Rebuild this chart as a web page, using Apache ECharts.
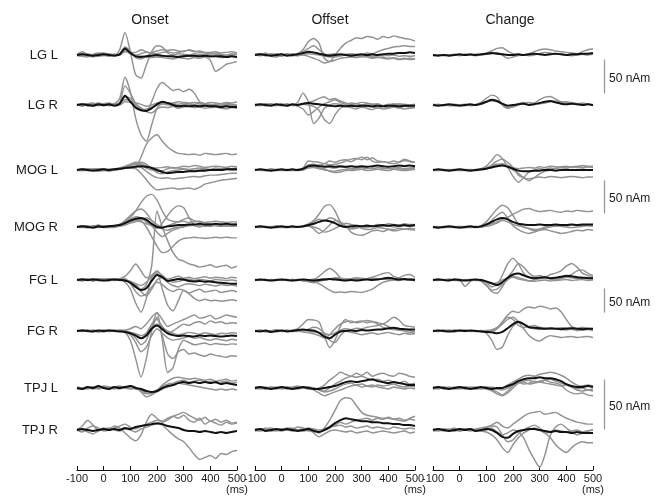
<!DOCTYPE html>
<html><head><meta charset="utf-8">
<script src="https://cdn.jsdelivr.net/npm/echarts@6/dist/echarts.min.js"></script>
<style>html,body{margin:0;padding:0;background:#fff}#c{width:663px;height:500px}</style>
</head><body><div id="c"></div>
<script>
// time axis (ms)
const times = [-100,-80,-60,-40,-20,0,20,40,60,80,100,120,140,160,180,200,220,240,260,280,300,320,340,360,380,400,420,440,460,480,500];
const conditions = ['Onset','Offset','Change'];
const regions = ['LG L','LG R','MOG L','MOG R','FG L','FG R','TPJ L','TPJ R'];
const scaleBarNAm = 50;
const scaleBarLabel = '50 nAm';
const xUnit = '(ms)';

// ---------- Onset (nAm) ----------
const on_LGL_mean = [0,1,0,-1,0,1,0,-1,1,10,3,-2,-3,-2,-1,0,-1,-2,-2,-3,-2,-1,-1,-2,-1,-2,-2,-2,-3,-2,-3];
const on_LGL_subj = [
 [0,2,0,-2,1,2,0,-1,8,34,5,-30,-35,-15,5,14,12,3,0,2,1,0,2,1,0,2,1,0,-1,0,1],
 [1,5,0,-3,2,3,1,0,2,12,6,-4,-6,-2,3,6,8,7,8,6,5,8,6,4,3,2,3,1,0,2,1],
 [-1,-2,-3,1,3,0,-2,1,0,6,2,-1,2,4,3,-2,-4,-5,-6,-4,-5,-6,-4,-5,-3,-8,-25,-20,-14,-12,-10],
 [0,0,2,-1,-2,0,2,0,1,8,4,4,8,5,2,2,4,5,3,4,6,7,5,6,4,4,5,3,4,5,3],
 [0,1,-1,0,1,-1,0,1,0,5,3,0,-2,-3,-4,-3,-3,-2,-3,-2,-1,-2,-3,-2,-1,-3,-2,-4,-3,-2,-4]];
const on_LGR_mean = [0,1,0,-1,1,0,1,-1,2,14,5,-4,-8,-9,-5,1,5,3,0,-2,-1,-2,-1,-2,-1,-2,-2,-3,-2,-3,-3];
const on_LGR_subj = [
 [0,2,-1,1,3,1,0,2,10,42,20,-20,-45,-55,-30,-5,2,0,1,-1,0,1,-1,0,1,-1,0,0,-1,0,-2],
 [1,-2,2,3,-1,2,3,0,1,12,10,2,-5,-10,5,25,34,28,22,24,20,24,18,5,2,0,1,-2,3,1,0],
 [-1,1,2,0,2,-1,0,1,4,29,18,2,-8,-6,-3,0,2,3,2,1,3,2,1,3,2,1,0,-1,1,0,-1],
 [0,0,-1,-2,0,1,-1,0,2,8,6,0,-4,-10,-12,-6,-3,-4,-2,-5,-3,-2,-4,-3,-5,-4,-3,-5,-6,-4,-5],
 [1,0,1,2,0,-1,1,2,0,5,4,3,1,-2,0,3,4,2,3,5,4,3,4,3,2,4,3,2,4,3,5]];
const on_MOGL_mean = [0,1,0,-1,0,1,0,1,2,3,4,5,6,5,3,0,-3,-5,-4,-3,-3,-2,-2,-1,-1,0,0,0,1,1,1];
const on_MOGL_subj = [
 [0,1,-1,0,2,0,1,0,2,4,6,5,20,40,50,55,45,36,30,26,25,24,25,23,26,25,24,25,26,24,25],
 [-1,0,2,1,0,-1,1,2,3,4,3,2,-5,-15,-25,-31,-30,-29,-28,-30,-29,-28,-30,-27,-22,-20,-18,-16,-15,-14,-13],
 [1,-1,0,2,1,0,-2,0,1,3,5,6,4,-2,-8,-12,-13,-12,-14,-13,-12,-11,-10,-11,-9,-8,-8,-7,-6,-5,-5],
 [0,2,1,-1,0,2,1,-1,3,6,9,12,10,6,4,3,4,5,3,4,6,5,7,6,4,5,6,5,4,6,5],
 [-1,0,1,0,-2,-1,0,1,2,4,7,9,8,3,0,-2,-1,2,4,3,2,1,2,3,2,1,3,2,3,2,3],
 [0,-1,0,1,2,1,-1,0,1,5,8,10,12,9,2,-4,-6,-3,-1,0,1,0,-1,0,1,0,1,0,1,0,0]];
const on_MOGR_mean = [0,1,0,-1,1,0,1,2,3,6,10,13,14,11,5,0,-1,1,2,3,3,4,4,5,4,4,5,4,5,4,4];
const on_MOGR_subj = [
 [0,1,2,0,-1,1,0,2,4,8,15,25,38,48,51,42,25,12,9,8,9,7,8,9,7,8,9,8,7,8,8],
 [-1,2,0,1,3,0,-1,1,3,5,8,10,8,5,2,-2,6,18,28,33,30,15,3,0,2,1,3,2,1,3,2],
 [1,0,-1,2,0,1,2,0,2,6,10,12,10,0,-15,-30,-40,-38,-30,-22,-18,-17,-16,-17,-18,-17,-16,-17,-16,-17,-17],
 [0,-1,1,0,2,1,0,-1,4,10,18,25,28,22,10,2,-3,-5,-2,0,1,3,2,4,3,2,4,5,3,4,3],
 [0,2,1,-1,0,2,1,0,2,5,12,16,14,8,2,-8,-15,-10,-5,-2,0,2,3,2,1,3,2,1,2,1,2],
 [1,0,-1,1,2,-1,0,1,1,3,6,8,12,14,10,4,0,2,5,8,12,14,10,8,6,5,4,6,5,4,5]];
const on_FGL_mean = [0,1,0,1,0,-1,0,1,0,-1,-6,-15,-22,-18,-2,11,6,-2,0,2,1,-2,-3,-2,-4,-3,-5,-6,-7,-8,-8];
const on_FGL_subj = [
 [0,2,-1,1,3,0,-2,1,2,0,-3,-10,-20,-10,30,150,115,85,60,45,41,35,32,28,30,33,28,30,32,26,30],
 [1,0,2,-2,0,3,1,-1,0,-5,-20,-50,-70,-40,5,15,-20,-55,-67,-45,-23,-30,-40,-45,-42,-45,-44,-46,-45,-43,-45],
 [-1,3,0,-2,2,1,-1,0,1,3,-8,-25,-35,-30,-15,-5,-10,-20,-25,-20,-22,-28,-24,-20,-26,-24,-22,-27,-25,-23,-26],
 [0,-2,1,3,-1,0,2,1,3,8,20,35,20,5,10,20,8,2,5,8,4,6,3,5,7,4,6,5,3,6,4],
 [1,0,-1,0,2,-1,0,2,-1,0,-3,-8,-12,-5,8,18,10,0,-5,-3,0,2,-1,1,0,-2,1,0,-1,0,-2],
 [0,1,2,0,-1,1,3,0,1,-2,-4,-10,-25,-35,-20,0,5,-5,-12,-15,-10,-8,-10,-12,-9,-11,-13,-10,-12,-11,-13]];
const on_FGR_mean = [0,1,0,-1,1,0,1,0,-1,-2,-5,-10,-16,-10,5,12,4,-5,-9,-11,-10,-11,-12,-10,-11,-10,-11,-12,-11,-10,-11];
const on_FGR_subj = [
 [0,2,-1,1,-2,1,0,2,0,-3,-20,-60,-100,-60,0,30,-10,-50,-60,-45,-40,-50,-48,-52,-55,-50,-53,-55,-57,-54,-55],
 [1,0,2,-1,1,-2,1,0,2,0,-5,-15,-30,-20,10,40,-20,-90,-80,-40,-20,-25,-30,-28,-26,-30,-27,-29,-30,-28,-29],
 [-1,1,0,2,0,1,-1,1,0,2,5,10,5,15,30,40,25,10,15,20,25,30,35,28,30,34,26,30,35,32,30],
 [0,-1,1,0,-2,0,2,-1,1,-1,-4,-8,-15,-5,15,25,10,-5,0,8,15,12,18,20,15,22,18,20,16,18,17],
 [1,0,-1,1,0,2,0,1,-1,0,-3,-6,-10,-5,8,15,8,0,-5,-8,-6,-3,-5,-7,-4,-6,-8,-5,-6,-4,-5],
 [0,1,0,-1,1,0,-1,0,1,-2,-8,-25,-45,-35,-10,5,-5,-15,-20,-18,-15,-12,-16,-14,-18,-20,-17,-19,-21,-18,-20]];
const on_TPJL_mean = [0,-1,1,0,2,0,-1,1,0,1,2,0,-1,-3,-4,-3,0,2,3,5,6,5,6,5,6,5,6,4,5,4,3];
const on_TPJL_subj = [
 [1,0,-1,1,0,2,1,-1,1,0,2,1,-4,-9,-7,-3,3,7,10,11,10,9,10,9,8,9,7,8,9,7,8],
 [0,-1,0,1,-1,0,1,0,-1,1,0,-1,-2,-5,-6,-4,-1,1,3,5,4,3,2,1,0,-1,-2,-1,-2,-1,-2],
 [-1,0,1,-1,0,1,0,1,2,0,-1,0,-3,-6,-5,-2,2,4,5,7,8,6,7,8,6,7,5,6,7,5,6]];
const on_TPJR_mean = [0,1,0,-1,0,1,0,1,0,2,1,3,4,5,6,7,6,4,3,2,0,-1,-1,-2,-1,-2,-3,-2,-3,-2,-1];
const on_TPJR_subj = [
 [1,0,-2,-4,-1,0,2,0,-1,1,0,-2,1,3,5,6,5,0,-5,-9,-12,-18,-25,-30,-28,-26,-29,-24,-25,-22,-21],
 [0,4,10,5,0,2,1,4,2,-3,-8,-11,-5,8,16,12,8,10,14,16,18,15,12,10,13,9,11,8,10,7,8],
 [0,-2,2,4,2,-1,0,2,4,6,3,1,4,6,8,10,9,12,14,12,15,10,8,12,6,9,7,5,8,6,7]];

// ---------- Offset (nAm) ----------
const off_LGL_mean = [0,1,0,-1,0,1,-1,0,1,3,5,4,2,0,-1,0,1,0,-1,0,1,0,1,0,1,2,2,3,3,4,3];
const off_LGL_subj = [
 [0,2,-1,1,0,-2,1,0,2,8,20,25,18,-5,-10,0,10,18,22,26,25,28,27,24,28,26,29,27,25,24,21],
 [1,0,3,-2,-3,0,1,-1,0,2,4,3,2,0,1,2,0,1,2,1,0,3,2,5,8,10,12,13,14,13,13],
 [-1,1,0,2,-1,1,0,2,-1,0,-2,-5,-8,-12,-10,-8,-5,-4,-3,-4,-2,-3,-5,-4,-3,-5,-4,-6,-5,-7,-6],
 [0,-1,1,0,2,0,1,-1,2,5,10,14,8,2,-2,-3,-1,0,1,0,-1,0,-2,-1,0,-1,0,-2,-1,-2,-1],
 [1,0,-1,1,0,-1,2,0,-1,1,2,1,0,-2,-3,-2,-1,0,-2,-1,-3,-2,-4,-3,-5,-6,-5,-7,-6,-5,-6]];
const off_LGR_mean = [0,1,0,-1,1,0,-1,1,0,2,3,2,1,0,-1,-2,-1,-2,-1,-2,-1,-1,-2,-1,-2,-1,-1,-2,-1,-1,-1];
const off_LGR_subj = [
 [1,0,-1,2,0,1,-1,0,4,18,5,-28,-20,-5,0,2,1,-2,-3,-1,-4,-2,-3,-5,-2,-4,-3,-5,-2,-3,-4],
 [0,-1,1,0,-1,2,0,1,-2,-6,-15,-10,-3,2,5,8,4,1,3,2,0,2,1,0,-1,1,0,2,1,0,1],
 [-1,0,2,1,0,-1,1,0,1,2,4,6,10,12,8,10,6,3,1,2,4,3,1,2,-1,0,2,1,0,-1,0],
 [0,1,-1,0,1,0,2,-1,0,1,0,-2,-8,-22,-28,-15,-5,-2,-4,-6,-3,-5,-7,-4,-6,-5,-3,-4,-6,-5,-4]];
const off_MOGL_mean = [0,1,0,-1,0,1,0,1,0,2,6,7,6,5,6,5,6,5,6,5,6,5,6,7,6,5,6,7,6,7,6];
const off_MOGL_subj = [
 [0,1,-1,0,1,0,1,0,1,3,14,13,12,10,14,12,15,16,13,17,20,16,19,14,13,12,14,12,15,13,12],
 [1,-1,0,2,0,-1,0,1,0,1,8,9,7,10,8,9,11,14,17,18,16,20,14,12,13,11,10,12,17,14,12],
 [0,0,1,-1,1,0,-1,0,1,0,4,5,3,2,-2,-4,-3,-1,0,2,1,3,2,4,3,2,3,4,2,3,4],
 [-1,1,0,0,-1,1,0,-1,0,2,5,6,8,6,4,3,5,4,2,3,4,2,3,1,2,3,1,2,1,2,3],
 [0,0,-1,1,0,0,1,0,-1,1,3,4,2,0,-1,-2,0,1,-1,0,1,-1,0,1,0,-1,1,0,-1,0,1]];
const off_MOGR_mean = [0,1,0,-1,0,1,0,1,0,1,3,5,8,10,9,6,2,0,1,2,1,2,1,2,3,2,3,2,3,2,3];
const off_MOGR_subj = [
 [0,1,-1,0,2,0,-1,1,0,2,5,10,20,32,35,25,8,0,-2,0,1,-1,2,0,1,2,0,1,2,1,2],
 [1,0,1,-1,0,-1,1,0,1,0,2,-3,-10,-5,3,10,8,2,-8,-12,-13,-10,-6,-5,-7,-4,-6,-5,-3,-4,-5],
 [-1,0,0,1,-1,0,1,-1,0,1,4,8,12,10,14,12,5,0,-3,-2,1,3,2,4,3,5,4,3,5,4,4],
 [0,-1,1,0,1,0,-1,0,1,2,1,0,-3,-8,-6,-2,2,6,4,2,-2,-4,-3,-1,-2,-3,-4,-2,-3,-2,-3]];
const off_FGL_mean = [0,1,0,-1,0,1,0,-1,0,1,0,-1,0,1,2,1,0,-1,0,-1,0,1,0,1,3,5,3,1,2,1,0];
const off_FGL_subj = [
 [0,1,-1,0,1,0,-1,1,0,-1,-2,0,8,18,25,18,5,0,2,1,3,2,4,3,2,1,0,2,1,0,-1],
 [1,0,1,-1,0,1,0,-1,1,0,-1,-3,-8,-15,-22,-27,-26,-27,-25,-26,-27,-24,-20,-12,-5,-2,0,-1,1,0,-1],
 [-1,0,1,0,-1,0,1,0,-1,1,0,2,1,3,2,4,3,2,1,3,2,3,6,10,14,16,8,5,10,12,6],
 [0,-1,0,1,0,-1,0,1,0,-2,-4,-6,-3,0,2,5,4,2,3,5,4,2,3,1,2,4,2,3,1,2,3]];
const off_FGR_mean = [0,-1,1,-2,0,1,-1,0,2,3,2,1,-4,-12,-16,-8,-1,0,1,0,2,1,2,3,4,6,7,5,4,3,3];
const off_FGR_subj = [
 [1,0,-2,1,3,0,-1,1,5,15,25,24,20,-10,-36,-20,10,25,18,20,22,18,20,15,8,5,3,2,4,1,-2],
 [0,2,-1,-3,0,1,2,0,-1,2,0,-2,-3,-5,-8,-4,2,5,3,6,5,8,10,12,15,22,30,24,12,10,8],
 [-1,0,1,0,-2,0,1,-1,0,-2,-4,-6,-10,-15,-8,5,15,20,22,18,20,23,21,18,15,10,5,2,0,-3,-5],
 [0,1,0,-1,1,-1,0,2,1,0,4,8,5,-5,-20,-25,-10,0,-3,-5,-8,-6,-4,-7,-5,-3,-6,-8,-5,-7,-6]];
const off_TPJL_mean = [0,1,0,-1,0,1,0,-1,0,1,0,-1,-1,0,1,2,4,6,7,6,7,8,9,7,6,5,6,5,4,3,3];
const off_TPJL_subj = [
 [0,1,-1,0,1,-1,0,1,2,0,1,-1,0,3,8,12,16,14,12,15,13,16,12,14,15,13,12,15,14,12,11],
 [1,0,1,-1,0,1,-1,0,1,0,-1,0,-2,-3,0,4,7,10,12,11,12,10,8,9,7,8,6,5,7,4,5],
 [-1,0,-1,1,0,0,1,-1,0,1,0,-2,-5,-8,-6,-4,-2,0,2,3,1,2,3,1,0,-1,1,0,-1,0,-1],
 [0,-1,0,1,-1,0,1,0,-1,0,1,0,-2,-4,-3,-1,2,4,5,3,4,2,1,3,2,3,4,2,1,2,1]];
const off_TPJR_mean = [0,1,-1,0,1,0,1,0,-1,0,1,-1,-2,0,3,7,10,12,11,10,9,9,8,8,7,7,6,6,5,5,4];
const off_TPJR_subj = [
 [0,-1,1,2,0,-1,1,2,0,1,-1,0,-3,2,10,20,30,33,32,25,18,15,14,13,12,12,11,12,10,11,10],
 [1,0,2,-1,1,0,2,1,3,2,0,1,-2,0,2,5,8,6,8,10,11,12,10,12,11,13,11,10,9,12,14],
 [-1,0,1,0,-1,1,0,-1,0,-1,0,-3,-7,-4,-1,0,-1,-2,-1,-3,-2,-1,-3,-2,-1,-2,-3,-2,-1,-3,-2],
 [0,1,0,-1,0,1,0,1,0,1,2,1,0,1,3,4,5,3,4,2,3,4,2,3,2,1,3,2,1,2,1]];

// ---------- Change (nAm) ----------
const ch_LGL_mean = [0,-1,0,-1,0,1,0,1,0,1,2,3,2,1,0,0,1,0,1,2,1,0,1,2,1,0,1,1,2,2,3];
const ch_LGL_subj = [
 [0,0,-1,0,1,0,1,0,1,0,3,6,10,11,6,2,1,0,2,5,8,9,8,6,5,4,3,2,5,8,9],
 [-1,0,0,-1,0,-1,1,0,-1,0,1,2,4,0,-5,-3,-1,0,-1,0,2,4,3,2,1,0,-1,0,1,0,1]];
const ch_LGR_mean = [0,-1,0,1,0,-1,0,1,0,2,5,8,6,2,-1,0,1,2,0,1,3,5,6,4,2,1,2,1,0,1,0];
const ch_LGR_subj = [
 [0,1,-1,0,1,0,-1,0,1,4,10,15,12,0,-5,-2,2,4,1,3,8,12,13,9,5,3,4,2,3,1,0],
 [1,0,0,-1,-1,0,1,-1,0,1,4,6,5,1,-4,-3,0,3,4,2,2,3,5,6,4,5,3,2,1,2,-1]];
const ch_MOGL_mean = [0,1,0,-1,0,1,0,-1,0,1,2,4,6,7,5,2,-1,-2,-2,-1,-1,0,0,-1,0,0,0,0,0,0,0];
const ch_MOGL_subj = [
 [0,1,-1,0,1,0,-1,0,1,2,6,15,24,18,5,-10,-19,-12,-3,0,2,1,3,2,4,3,5,4,3,5,4],
 [1,0,1,-1,0,1,0,-1,0,1,3,8,14,17,12,4,-8,-12,-14,-12,-11,-12,-10,-11,-12,-11,-10,-11,-12,-11,-11],
 [-1,0,0,1,-1,0,1,0,-1,0,2,5,8,10,6,0,-5,-12,-17,-12,-6,-2,0,3,5,6,4,5,7,6,5],
 [0,-1,1,0,1,-1,0,1,0,1,3,6,9,8,7,4,2,3,4,3,5,4,6,5,4,3,5,6,4,5,6]];
const ch_MOGR_mean = [0,-1,0,1,0,-1,0,1,0,1,4,8,12,14,12,8,5,4,3,3,4,3,3,4,3,3,4,3,4,4,4];
const ch_MOGR_subj = [
 [0,1,-1,0,1,0,-1,1,0,2,8,18,28,34,30,18,5,0,-2,-4,-3,0,2,1,3,2,4,3,2,3,4],
 [1,0,1,-1,0,1,0,-1,1,0,2,5,8,12,15,20,24,28,29,26,24,25,26,24,23,25,24,26,25,24,25],
 [-1,0,0,1,-1,0,1,0,-1,0,3,10,18,23,14,2,-4,-8,-10,-8,-5,-4,-6,-8,-10,-9,-7,-5,-6,-4,-5],
 [0,-1,1,0,0,1,-1,0,1,0,1,3,6,10,8,4,2,0,-3,-6,-4,-2,0,2,1,0,-1,0,1,2,1]];
const ch_FGL_mean = [0,1,0,-1,1,0,-1,0,1,0,-3,-7,-11,-5,5,12,14,10,6,4,5,6,4,5,7,9,8,6,5,4,4];
const ch_FGL_subj = [
 [0,2,-1,1,0,-2,1,0,-1,1,-5,-15,-10,10,35,47,35,15,5,2,4,6,3,5,4,6,5,3,4,6,5],
 [1,-1,0,2,-1,0,-14,-3,1,-2,-10,-25,-29,-15,5,20,36,28,15,8,10,6,12,15,20,30,36,28,15,10,8],
 [-1,0,1,0,2,1,0,-1,0,-3,-12,-22,-20,-10,0,8,5,2,-2,0,3,5,2,0,3,8,12,20,22,15,10],
 [0,1,0,-1,0,1,0,1,-1,0,-4,-8,-6,0,4,6,2,0,-2,-3,-1,0,-2,-1,0,1,-1,0,1,-1,0]];
const ch_FGR_mean = [0,1,0,-1,0,1,0,1,0,-1,-2,-3,-5,-2,6,15,20,15,8,7,6,5,6,5,4,5,6,5,4,5,5];
const ch_FGR_subj = [
 [0,1,-1,0,2,-1,0,1,0,1,0,-2,5,20,35,43,40,48,52,50,54,52,48,50,42,25,10,5,8,6,5],
 [1,-1,2,0,-1,1,2,0,-1,0,-5,-20,-40,-35,-10,10,18,15,8,5,3,6,4,5,3,2,4,1,2,3,1],
 [-1,0,1,1,-2,0,1,-1,0,-1,-2,0,5,15,25,30,20,5,-10,-18,-22,-15,-10,-12,-14,-13,-12,-14,-13,-12,-14],
 [0,-1,0,2,0,1,-1,0,1,0,1,3,8,18,30,25,12,8,10,12,8,6,4,5,7,6,5,4,6,5,4]];
const ch_TPJL_mean = [0,1,0,-1,0,1,0,-1,0,1,0,-1,0,0,2,4,7,9,10,10,11,10,10,9,7,4,2,1,1,2,1];
const ch_TPJL_subj = [
 [0,1,-1,0,1,0,1,0,-1,0,1,0,-1,0,3,6,9,12,13,12,14,15,16,15,13,10,6,3,2,3,2],
 [1,0,1,-1,0,1,-1,0,1,0,-1,-3,-6,-8,-5,0,5,7,8,6,7,8,6,5,3,-2,-5,-6,-5,-7,-8],
 [-1,0,0,1,-1,0,1,0,-1,0,1,-2,-4,-7,-3,2,6,4,5,7,6,8,9,7,5,3,1,-2,-3,-2,-3],
 [0,-1,1,0,0,-1,0,1,0,-1,0,1,-1,-2,0,3,5,6,4,5,6,5,4,3,2,3,1,-1,0,-2,-1]];
const ch_TPJR_mean = [0,1,0,-1,0,1,0,1,-1,0,1,0,-3,-7,-8,-4,-1,0,1,1,0,-1,-2,-1,-2,-2,-3,-2,-3,-3,-3];
const ch_TPJR_subj = [
 [0,1,-1,0,2,-1,0,1,0,-1,0,2,-2,-5,-3,0,-2,-8,-20,-30,-38,-25,-5,3,6,2,-2,-5,-3,-1,0],
 [1,0,1,0,-1,1,0,-1,1,2,3,5,8,4,2,6,10,14,17,18,19,16,17,18,15,12,10,8,7,6,6],
 [-1,0,1,0,-1,0,1,1,0,-1,-2,-5,-10,-18,-23,-15,-8,-3,0,2,0,-3,-2,0,-1,-2,-1,0,-2,-1,0],
 [0,-1,0,1,0,-1,1,0,-1,0,2,4,3,-5,-12,-10,-4,0,3,5,2,-3,-8,-15,-20,-23,-18,-14,-12,-13,-13]];

// table: rows = regions, cols = conditions
const panels = [
 [[on_LGL_mean,on_LGL_subj],[off_LGL_mean,off_LGL_subj],[ch_LGL_mean,ch_LGL_subj]],
 [[on_LGR_mean,on_LGR_subj],[off_LGR_mean,off_LGR_subj],[ch_LGR_mean,ch_LGR_subj]],
 [[on_MOGL_mean,on_MOGL_subj],[off_MOGL_mean,off_MOGL_subj],[ch_MOGL_mean,ch_MOGL_subj]],
 [[on_MOGR_mean,on_MOGR_subj],[off_MOGR_mean,off_MOGR_subj],[ch_MOGR_mean,ch_MOGR_subj]],
 [[on_FGL_mean,on_FGL_subj],[off_FGL_mean,off_FGL_subj],[ch_FGL_mean,ch_FGL_subj]],
 [[on_FGR_mean,on_FGR_subj],[off_FGR_mean,off_FGR_subj],[ch_FGR_mean,ch_FGR_subj]],
 [[on_TPJL_mean,on_TPJL_subj],[off_TPJL_mean,off_TPJL_subj],[ch_TPJL_mean,ch_TPJL_subj]],
 [[on_TPJR_mean,on_TPJR_subj],[off_TPJR_mean,off_TPJR_subj],[ch_TPJR_mean,ch_TPJR_subj]]
];

// ---------- layout ----------
const FONT = '"Liberation Sans", Arial, Helvetica, sans-serif';
const colLeft = [77, 255, 433];
const colWidth = 160;
const colTitleX = [150, 330, 510];
const rowBase = [55, 105, 170, 227, 280, 331, 388, 430];
const rowPx = [0.66, 0.66, 0.64, 0.64, 0.46, 0.46, 0.98, 0.98]; // px per nAm
const barTop = [60, 181, 289, 380];
const axisY = 470;

const grids = [], xAxes = [], yAxes = [], series = [], graphics = [];
function addGrid(g, x, y) {
  grids.push(g); const i = grids.length - 1;
  xAxes.push(Object.assign({gridIndex: i}, x));
  yAxes.push(Object.assign({gridIndex: i}, y));
  return i;
}
const toPairs = arr => times.map((t, i) => [t, arr[i]]);

for (let r = 0; r < regions.length; r++) {
  const k = rowPx[r];
  for (let c = 0; c < 3; c++) {
    const gi = addGrid({left: colLeft[c], width: colWidth, top: rowBase[r] - 50 * k, height: 100 * k},
      {type: 'value', min: -100, max: 500, show: false},
      {type: 'value', min: -50, max: 50, show: false});
    const [mean, subj] = panels[r][c];
    subj.forEach((s, j) => series.push({
      type: 'line', name: regions[r] + ' ' + conditions[c] + ' s' + (j + 1),
      xAxisIndex: gi, yAxisIndex: gi, data: toPairs(s), symbol: 'none', clip: false,
      smooth: 0.25, silent: true, z: 2, lineStyle: {color: '#929292', width: 1.45}
    }));
    series.push({
      type: 'line', name: regions[r] + ' ' + conditions[c] + ' mean',
      xAxisIndex: gi, yAxisIndex: gi, data: toPairs(mean), symbol: 'none', clip: false,
      smooth: 0.25, silent: true, z: 5, lineStyle: {color: '#111', width: 2}
    });
  }
  graphics.push({type: 'text', x: 58, y: rowBase[r], style: {text: regions[r], fill: '#1a1a1a',
    font: '13px ' + FONT, align: 'right', verticalAlign: 'middle'}});
}

// bottom time axes
for (let c = 0; c < 3; c++) {
  addGrid({left: colLeft[c], width: colWidth, top: axisY - 10, height: 10},
    {type: 'value', min: -100, max: 500, interval: 100, position: 'bottom',
     axisLine: {show: true, onZero: false, lineStyle: {color: '#111', width: 1}},
     axisTick: {show: true, inside: true, length: 4, lineStyle: {color: '#111', width: 1}},
     axisLabel: {show: true, fontSize: 11, color: '#1a1a1a', margin: 3, fontFamily: FONT},
     splitLine: {show: false}},
    {type: 'value', show: false});
  graphics.push({type: 'text', x: colLeft[c] + colWidth, y: 490, style: {text: xUnit, fill: '#1a1a1a',
    font: '11px ' + FONT, align: 'center', verticalAlign: 'middle'}});
  graphics.push({type: 'text', x: colTitleX[c], y: 20, style: {text: conditions[c], fill: '#1a1a1a',
    font: '14px ' + FONT, align: 'center', verticalAlign: 'middle'}});
}

// scale bars (50 nAm) per region pair
for (let b = 0; b < 4; b++) {
  const k = rowPx[b * 2];
  addGrid({left: 604, width: 10, top: barTop[b], height: scaleBarNAm * k},
    {type: 'value', show: false},
    {type: 'value', min: 0, max: scaleBarNAm, position: 'left',
     axisLine: {show: true, lineStyle: {color: '#9a9a9a', width: 1.3}},
     axisTick: {show: false}, axisLabel: {show: false}, splitLine: {show: false}});
  graphics.push({type: 'text', x: 609, y: barTop[b] + scaleBarNAm * k / 2 + 2, style: {text: scaleBarLabel,
    fill: '#1a1a1a', font: '12px ' + FONT, align: 'left', verticalAlign: 'middle'}});
}

const chart = echarts.init(document.getElementById('c'), null, {renderer: 'canvas'});
chart.setOption({
  backgroundColor: '#fff', animation: false,
  grid: grids, xAxis: xAxes, yAxis: yAxes, series: series, graphic: graphics
});
</script>
</body></html>
